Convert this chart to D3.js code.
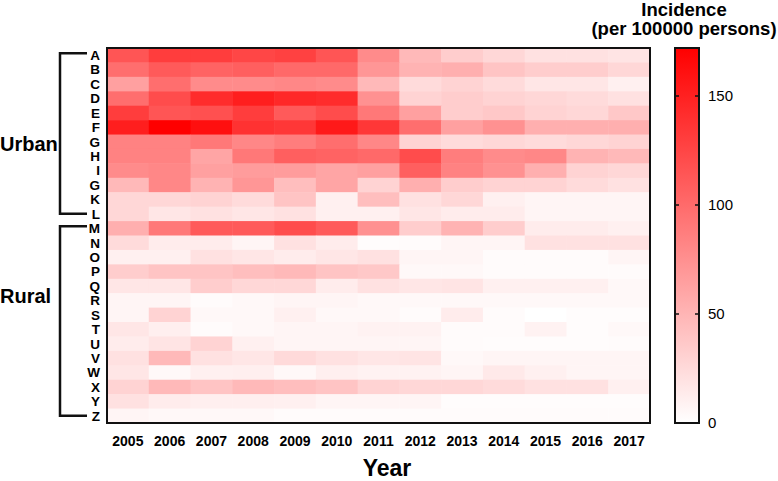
<!DOCTYPE html>
<html lang="en">
<head>
<meta charset="UTF-8">
<title>Incidence heatmap</title>
<script src="https://d3js.org/d3.v7.min.js"></script>
<style>
  body { margin: 0; background: #fff; }
  text { font-family: Arial, "Liberation Sans", sans-serif; }
</style>
</head>
<body>
<svg width="778" height="481"></svg>
<script>
// years along the bottom
var years = [2005, 2006, 2007, 2008, 2009, 2010, 2011, 2012, 2013, 2014, 2015, 2016, 2017];
// row labels (the original repeats "G" where "J" would be)
var regions = ["A","B","C","D","E","F","G","H","I","G","K","L","M","N","O","P","Q","R","S","T","U","V","W","X","Y","Z"];
var colorTicks = [0, 50, 100, 150];

// incidence per 100000 persons, one array per row, 2005..2017
var incidence = [
  [115,131,131,125,128,115, 78, 47, 34, 27, 20, 20, 18],
  [ 98,111,105,108,101,101, 71, 51, 54, 40, 34, 34, 27],
  [ 64, 98, 78, 78, 81, 78, 47, 24, 30, 24, 17, 17, 10],
  [ 98,121,142,152,145,142, 74, 30, 34, 30, 27, 24, 20],
  [131,115,118,131,111,121, 91, 64, 34, 37, 30, 27, 37],
  [152,172,162,138,135,155,135, 98, 64, 74, 54, 54, 54],
  [ 84, 84, 91, 81, 88, 98, 81, 30, 24, 27, 24, 27, 30],
  [ 84, 84, 61, 91,108,105,101,121, 88, 78, 81, 51, 47],
  [ 78, 81, 64, 67, 67, 61, 64,108, 84, 74, 54, 30, 27],
  [ 47, 81, 51, 71, 44, 61, 30, 54, 34, 30, 30, 24, 20],
  [ 27, 27, 30, 24, 40, 10, 44, 20, 27, 10,  7,  7,  7],
  [ 27, 17, 20, 17, 20, 10, 10, 17, 13, 13,  7,  7,  7],
  [ 54, 91,111,111,121,111, 74, 34, 51, 34, 13, 13, 10],
  [ 24, 13, 13,  7, 20, 13,  2,  3,  7,  7, 20, 20, 20],
  [ 10, 10, 20, 17, 13, 17, 20,  7,  7,  3,  3,  3,  7],
  [ 34, 40, 40, 44, 47, 40, 37,  5,  5,  3,  3,  3,  3],
  [ 17, 17, 34, 27, 27, 13, 20, 17, 18, 10, 10, 10,  5],
  [  7,  7,  3,  5,  7,  7,  5,  5,  5,  5,  5,  5,  5],
  [  7, 30,  5,  5, 10,  5,  5,  3, 13,  3,  0,  2,  2],
  [ 17, 11,  3,  5,  7,  7,  9,  9,  3,  3,  9,  2,  5],
  [ 13, 18, 30, 10,  7,  7,  7,  7,  3,  2,  2,  2,  3],
  [ 20, 47, 20, 17, 25, 20, 17, 18,  5,  7,  7,  7,  7],
  [ 17,  5, 10, 11,  5, 11,  9,  9,  7, 15, 10,  7,  7],
  [ 30, 47, 40, 47, 44, 40, 30, 27, 27, 24, 20, 20, 10],
  [ 20, 13, 11, 11, 10,  7,  7,  7,  2,  2,  2,  2,  2],
  [  7,  5,  5,  5,  3,  3,  3,  3,  3,  3,  3,  3,  3]
];

var svg = d3.select("svg");
var plotL = 107, plotR = 650, plotT = 48, plotB = 423;

var x = d3.scaleBand().domain(years).range([plotL, plotR]);
var y = d3.scaleBand().domain(d3.range(regions.length)).range([plotT, plotB]);
var color = d3.scaleLinear().domain([0, 172]).range(["#ffffff", "#ff0000"]);

// cells
var cells = [];
incidence.forEach(function(row, i) {
    row.forEach(function(v, j) { cells.push({r: i, year: years[j], v: v}); });
});
svg.append("g")
    .selectAll("rect")
    .data(cells)
    .enter()
    .append("rect")
    .attr("x", function(d) { return x(d.year); })
    .attr("y", function(d) { return y(d.r); })
    .attr("width", x.bandwidth() + 0.5)
    .attr("height", y.bandwidth() + 0.5)
    .attr("fill", function(d) { return color(d.v); });

// frame
svg.append("rect")
    .attr("x", plotL).attr("y", plotT)
    .attr("width", plotR - plotL).attr("height", plotB - plotT)
    .attr("fill", "none").attr("stroke", "#111").attr("stroke-width", 2);

// row labels
svg.append("g")
    .selectAll("text")
    .data(regions)
    .enter()
    .append("text")
    .attr("x", 100)
    .attr("y", function(d, i) { return y(i) + y.bandwidth() / 2; })
    .attr("dy", "0.36em")
    .attr("text-anchor", "end")
    .attr("font-size", "13.5px")
    .attr("font-weight", "bold")
    .text(function(d) { return d; });

// year labels
svg.append("g")
    .selectAll("text")
    .data(years)
    .enter()
    .append("text")
    .attr("x", function(d) { return x(d) + x.bandwidth() / 2; })
    .attr("y", 446)
    .attr("text-anchor", "middle")
    .attr("font-size", "14px")
    .attr("font-weight", "bold")
    .text(function(d) { return d; });

// axis title
svg.append("text")
    .attr("x", 387).attr("y", 476)
    .attr("text-anchor", "middle")
    .attr("font-size", "23px")
    .attr("font-weight", "bold")
    .text("Year");

// group brackets
function bracket(from, to, label, ly) {
    var y0 = y(from) + y.bandwidth() / 2 - 2, y1 = y(to) + y.bandwidth() / 2;
    svg.append("path")
        .attr("d", "M 87 " + y0 + " H 60 V " + y1 + " H 87")
        .attr("fill", "none").attr("stroke", "#111").attr("stroke-width", 2.5);
    svg.append("text")
        .attr("x", 0).attr("y", ly)
        .attr("font-size", "20px")
        .attr("font-weight", "bold")
        .text(label);
}
bracket(0, 11, "Urban", 151);
bracket(12, 25, "Rural", 303);

// colour bar
var cbLeft = 675, cbWidth = 24;
var cy = d3.scaleLinear().domain([0, 172]).range([plotB, plotT]);
var grad = svg.append("defs").append("linearGradient")
    .attr("id", "cbar").attr("x1", 0).attr("y1", 1).attr("x2", 0).attr("y2", 0);
grad.append("stop").attr("offset", "0%").attr("stop-color", color(0));
grad.append("stop").attr("offset", "100%").attr("stop-color", color(172));
svg.append("rect")
    .attr("x", cbLeft).attr("y", plotT)
    .attr("width", cbWidth).attr("height", plotB - plotT)
    .attr("fill", "url(#cbar)")
    .attr("stroke", "#111").attr("stroke-width", 2);

// small inward ticks on both sides of the bar
var tk = svg.append("g").selectAll("g").data(colorTicks).enter().append("g");
tk.filter(function(d) { return d > 0; }).append("path")
    .attr("d", function(d) {
        var yy = cy(d);
        return "M " + cbLeft + " " + yy + " h 4 M " + (cbLeft + cbWidth - 4) + " " + yy + " h 4";
    })
    .attr("stroke", "#111").attr("stroke-width", 1.5);
tk.append("text")
    .attr("x", 708)
    .attr("y", function(d) { return cy(d); })
    .attr("dy", "0.36em")
    .attr("font-size", "15px")
    .text(function(d) { return d; });

// legend title
var lt = svg.append("text")
    .attr("text-anchor", "middle")
    .attr("font-size", "18.5px")
    .attr("font-weight", "bold");
lt.append("tspan").attr("x", 684).attr("y", 16).text("Incidence");
lt.append("tspan").attr("x", 684).attr("y", 35).text("(per 100000 persons)");
</script>
</body>
</html>
